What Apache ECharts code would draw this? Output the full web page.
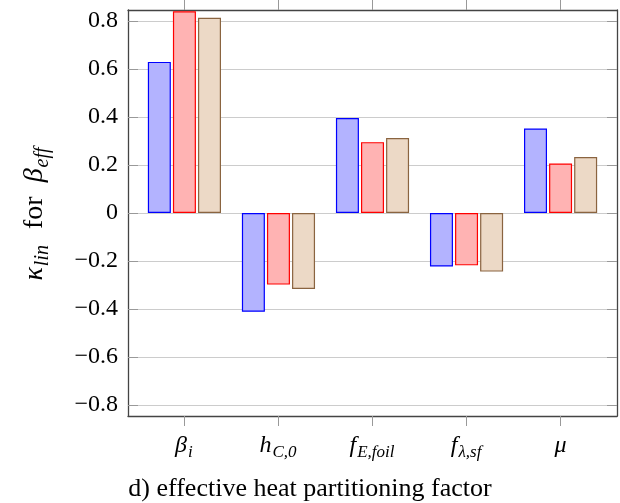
<!DOCTYPE html>
<html>
<head>
<meta charset="utf-8">
<script src="https://cdn.jsdelivr.net/npm/echarts@6/dist/echarts.min.js"></script>
<style>
  html, body { margin: 0; padding: 0; background: #fff; }
  #chart { width: 620px; height: 503px; }
</style>
</head>
<body>
<div id="chart"></div>
<script>
// parameter names (rich text: main symbol + subscript)
const categories = [
  { sym: 'β', sub: 'i' },
  { sym: 'h', sub: 'C,0' },
  { sym: 'f', sub: 'E,foil' },
  { sym: 'f', sub: 'λ,sf' },
  { sym: 'μ', sub: '' }
];

// kappa_lin values
const blueValues = [0.629, -0.411, 0.395, -0.223, 0.352];
const redValues = [0.840, -0.298, 0.295, -0.218, 0.206];
const brownValues = [0.813, -0.316, 0.312, -0.244, 0.233];

const yTicks = [-0.8, -0.6, -0.4, -0.2, 0, 0.2, 0.4, 0.6, 0.8];

const chart = echarts.init(document.getElementById('chart'));

const serif = '"Liberation Serif", "DejaVu Serif", serif';
const catIdx = categories.map((c, i) => i);

const toData = vals => vals.map((v, i) => [i, v]);

const labelRich = {
  m: { fontFamily: serif, fontStyle: 'italic', fontSize: 24, color: '#000', lineHeight: 28 },
  s: { fontFamily: serif, fontStyle: 'italic', fontSize: 17, color: '#000', lineHeight: 18, padding: [14, 1, 0, 1] }
};

const nameRich = {
  m: { fontFamily: serif, fontStyle: 'italic', fontSize: 28, color: '#000', lineHeight: 30 },
  s: { fontFamily: serif, fontStyle: 'italic', fontSize: 20, color: '#000', lineHeight: 20, padding: [15, 2, 0, 1] },
  r: { fontFamily: serif, fontSize: 28, color: '#000', lineHeight: 30 }
};

function barSeries(name, vals, fill, stroke) {
  return {
    name: name,
    type: 'bar',
    xAxisIndex: 0,
    yAxisIndex: 0,
    barWidth: 23,
    barGap: '9%',
    data: toData(vals),
    itemStyle: { color: fill, borderColor: stroke, borderWidth: 1.2 },
    silent: true
  };
}

const tickStyle = { color: '#999', width: 1 };
const frameLine = { color: '#444', width: 1.3 };

const option = {
  animation: false,
  title: {
    text: 'd) effective heat partitioning factor',
    left: 'center',
    top: 471,
    textStyle: { fontFamily: serif, fontSize: 26, fontWeight: 'normal', color: '#000' }
  },
  grid: { left: 128, right: 3, top: 10, bottom: 87 },
  xAxis: [
    {
      type: 'value',
      min: -0.6,
      max: 4.6,
      position: 'bottom',
      axisLine: { show: true, onZero: false, lineStyle: frameLine },
      axisTick: { show: true, inside: false, length: 10, customValues: catIdx, lineStyle: tickStyle },
      axisLabel: {
        customValues: catIdx,
        margin: 16,
        formatter: v => {
          const c = categories[Math.round(v)];
          if (!c) return '';
          return c.sub ? '{m|' + c.sym + '}{s|' + c.sub + '}' : '{m|' + c.sym + '}';
        },
        rich: labelRich
      },
      splitLine: { show: false }
    },
    {
      type: 'value',
      min: -0.6,
      max: 4.6,
      position: 'top',
      axisLine: { show: true, onZero: false, lineStyle: frameLine },
      axisTick: { show: true, inside: false, length: 10, customValues: catIdx, lineStyle: tickStyle },
      axisLabel: { show: false },
      splitLine: { show: false }
    }
  ],
  yAxis: [
    {
      type: 'value',
      min: -0.845,
      max: 0.845,
      position: 'left',
      name: '{m|κ}{s|lin}{r|  for  }{m|β}{s|eff}',
      nameLocation: 'middle',
      nameRotate: 90,
      nameGap: 78,
      nameTextStyle: { rich: nameRich },
      axisLine: { show: true, onZero: false, lineStyle: frameLine },
      axisTick: { show: true, inside: true, length: 10, customValues: yTicks, lineStyle: tickStyle },
      axisLabel: {
        customValues: yTicks,
        margin: 10,
        fontFamily: serif,
        fontSize: 24,
        color: '#000',
        formatter: v => (Math.abs(v) < 1e-9 ? '0' : String(+v.toFixed(1)).replace('-', '\u2212'))
      },
      splitLine: { show: true, lineStyle: { color: '#ccc', width: 1 } }
    },
    {
      type: 'value',
      min: -0.845,
      max: 0.845,
      position: 'right',
      axisLine: { show: true, onZero: false, lineStyle: frameLine },
      axisTick: { show: true, inside: true, length: 10, customValues: yTicks, lineStyle: tickStyle },
      axisLabel: { show: false },
      splitLine: { show: false }
    }
  ],
  series: [
    barSeries('blue', blueValues, '#b3b3ff', '#0000ff'),
    barSeries('red', redValues, '#ffb3b3', '#ff0000'),
    barSeries('brown', brownValues, '#ecd9c6', '#8a6440')
  ]
};

chart.setOption(option);
</script>
</body>
</html>
